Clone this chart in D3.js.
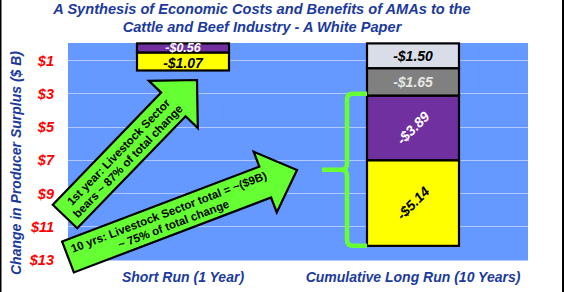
<!DOCTYPE html>
<html><head><meta charset="utf-8">
<script src="https://cdn.jsdelivr.net/npm/d3@7"></script>
<style>body{margin:0;background:#fff}svg{display:block}text{font-family:"Liberation Sans",Arial,sans-serif}</style>
</head><body><svg id="c" width="565" height="292"></svg>
<script>
const titleLines = ["A Synthesis of Economic Costs and Benefits of AMAs to the", "Cattle and Beef Industry - A White Paper"];
const yAxisTitle = "Change in Producer Surplus ($ B)";
const categories = ["Short Run (1 Year)", "Cumulative Long Run (10 Years)"];
const shortRunValues = [0.56, 1.07];
const shortRunColors = ["#7030a0", "#ffff00"];
const shortRunTextColors = ["#ffffff", "#000000"];
const longRunValues = [1.50, 1.65, 3.89, 5.14];
const longRunColors = ["#d9dde8", "#808080", "#7030a0", "#ffff00"];
const longRunTextColors = ["#000000", "#e6e6e6", "#ffffff", "#000000"];
const longRunTextAngles = [0, 0, -45, -45];
const tickValues = [1, 3, 5, 7, 9, 11, 13];
const tickLabels = ["$1", "$3", "$5", "$7", "$9", "$11", "$13"];
const arrowNotes = [
  {lines: ["1st year: Livestock Sector", "bears ~ 87% of total change"]},
  {lines: ["10 yrs:  Livestock Sector total = ~($9B)", "~ 75% of total change"]}
];

const svg = d3.select("#c");
const plot = {l: 68, r: 528, t: 43, b: 260};
const navy = "#1b3a9c";
const green = "#66ff33";

// borders
svg.append("rect").attr("x", 0).attr("y", 0).attr("width", 1.5).attr("height", 292).attr("fill", "#000");
svg.append("rect").attr("x", 562).attr("y", 0).attr("width", 2).attr("height", 292).attr("fill", "#000");

// title
svg.append("text").attr("x", 262).attr("y", 14).attr("text-anchor", "middle")
  .attr("font-size", 14.6).attr("font-weight", "bold").attr("font-style", "italic").attr("fill", navy)
  .selectAll("tspan").data(titleLines).join("tspan")
  .attr("x", 262).attr("dy", (d, i) => i ? 17.5 : 0).text(d => d);

const x = d3.scaleBand().domain(categories).range([plot.l, plot.r]).paddingInner(0.6).paddingOuter(0.3);
const y = d3.scaleLinear().domain([0, 13]).range([43.4, 259.5]);

svg.append("rect").attr("x", plot.l).attr("y", plot.t).attr("width", plot.r - plot.l).attr("height", plot.b - plot.t).attr("fill", "#6699ff");
svg.append("g").selectAll("line").data(tickValues).join("line")
  .attr("x1", plot.l).attr("x2", plot.r).attr("y1", d => Math.round(y(d)) + 0.5).attr("y2", d => Math.round(y(d)) + 0.5)
  .attr("stroke", "#b3c8ff").attr("stroke-width", 1);

// y axis labels
const yAxis = d3.axisLeft(y).tickValues(tickValues).tickFormat((d, i) => tickLabels[i]).tickSize(0).tickPadding(0);
const ga = svg.append("g").attr("transform", `translate(54,0)`).call(yAxis);
ga.select(".domain").remove();
ga.selectAll("text").attr("fill", "#ff0000").attr("font-size", 14.5).attr("font-weight", "bold").attr("font-style", "italic")
  .attr("font-family", "Liberation Sans, Arial, sans-serif").attr("dy", "0.35em");

svg.append("text").attr("transform", "translate(21,163) rotate(-90)").attr("text-anchor", "middle")
  .attr("font-size", 14).attr("font-weight", "bold").attr("font-style", "italic").attr("fill", navy).text(yAxisTitle);

// category labels
svg.append("g").selectAll("text").data(categories).join("text")
  .attr("x", d => x(d) + x.bandwidth() / 2).attr("y", 282).attr("text-anchor", "middle")
  .attr("font-size", 14).attr("font-weight", "bold").attr("font-style", "italic").attr("fill", navy).text(d => d);

function stackBar(cat, values, colors) {
  let acc = 0;
  const segs = values.map((v, i) => { const s = {v, i, y0: acc, y1: acc + v}; acc += v; return s; });
  const g = svg.append("g");
  g.selectAll("rect").data(segs).join("rect")
    .attr("x", x(cat)).attr("width", x.bandwidth())
    .attr("y", d => y(d.y0)).attr("height", d => y(d.y1) - y(d.y0))
    .attr("fill", d => colors[d.i]).attr("stroke", "#000").attr("stroke-width", 2.2);
  return {g, segs};
}
const sr = stackBar(categories[0], shortRunValues, shortRunColors);
sr.g.selectAll("text").data(sr.segs).join("text")
  .attr("x", x(categories[0]) + x.bandwidth() / 2)
  .attr("y", d => d.i === 0 ? (y(d.y0) + y(d.y1)) / 2 : (y(d.y0) + y(d.y1)) / 2 + 1.5)
  .attr("dy", "0.35em").attr("text-anchor", "middle")
  .attr("font-size", d => d.i === 0 ? 12.5 : 14).attr("font-weight", "bold").attr("font-style", "italic")
  .attr("fill", d => shortRunTextColors[d.i]).text(d => "-$" + d.v.toFixed(2));

const lr = stackBar(categories[1], longRunValues, longRunColors);
lr.g.selectAll("text").data(lr.segs).join("text")
  .attr("transform", d => `translate(${x(categories[1]) + x.bandwidth() / 2},${(y(d.y0) + y(d.y1)) / 2}) rotate(${longRunTextAngles[d.i]})`)
  .attr("dy", "0.35em").attr("text-anchor", "middle")
  .attr("font-size", 14).attr("font-weight", "bold").attr("font-style", "italic")
  .attr("fill", d => longRunTextColors[d.i]).text(d => "-$" + d.v.toFixed(2));

// bracket
const bx = x(categories[1]);
const b0 = y(longRunValues[0] + longRunValues[1]) - 2, b1 = y(d3.sum(longRunValues));
const bm = (b0 + b1) / 2, bv = bx - 20, bt = bx - 45;
svg.append("path").attr("d",
  `M${bx},${b0} L${bv + 6},${b0} Q${bv},${b0} ${bv},${b0 + 6} L${bv},${bm - 6} Q${bv},${bm} ${bv - 6},${bm} L${bt},${bm}
   M${bv - 6},${bm} Q${bv},${bm} ${bv},${bm + 6} L${bv},${b1 - 6} Q${bv},${b1} ${bv + 6},${b1} L${bx},${b1}`)
  .attr("fill", "none").attr("stroke", green).attr("stroke-width", 4.5);

// arrows
const arrowGeom = [
  {tail: [65, 216.5], tip: [197, 80], w: 34, hw: 68, hl: 34, tt: 0.44, lh: 13, fs: 11.5},
  {tail: [68, 257], tip: [297, 170], w: 33, hw: 65, hl: 34, tt: 0.45, lh: 13, fs: 11.5}
];
arrowNotes.forEach((n, k) => {
  const a = arrowGeom[k];
  const dx = a.tip[0] - a.tail[0], dy = a.tip[1] - a.tail[1];
  const L = Math.hypot(dx, dy), ang = Math.atan2(dy, dx) * 180 / Math.PI;
  const g = svg.append("g").attr("transform", `translate(${a.tail[0]},${a.tail[1]}) rotate(${ang})`);
  const pts = [[0, -a.w / 2], [L - a.hl, -a.w / 2], [L - a.hl, -a.hw / 2], [L, 0], [L - a.hl, a.hw / 2], [L - a.hl, a.w / 2], [0, a.w / 2]];
  g.append("polygon").attr("points", pts.map(p => p.join(",")).join(" "))
    .attr("fill", green).attr("stroke", "#000").attr("stroke-width", 2.2).attr("stroke-linejoin", "miter");
  g.append("text").attr("text-anchor", "middle").attr("font-size", a.fs).attr("font-weight", "bold").attr("fill", "#000")
    .selectAll("tspan").data(n.lines).join("tspan")
    .attr("x", L * a.tt).attr("y", (d, i) => (i - 0.5) * a.lh + 4.2).text(d => d);
});
</script></body></html>
